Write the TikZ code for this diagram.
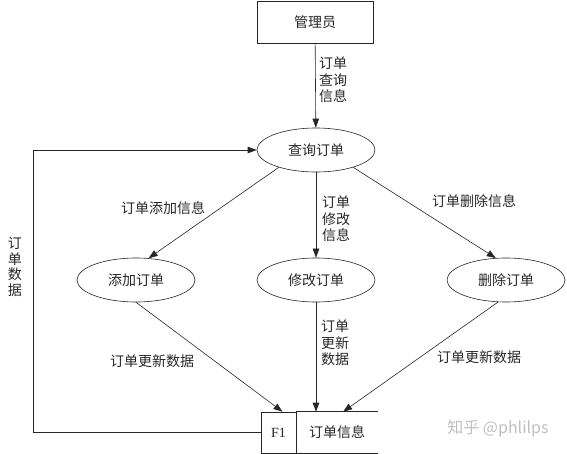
\documentclass[tikz,border=0pt]{standalone}
\usepackage{fontspec}
\setmainfont{Liberation Serif}
\newfontfamily\cjk{Noto Sans CJK SC}
\usetikzlibrary{arrows.meta,shapes.geometric}
\tikzset{
  entity/.style={draw, minimum width=116pt, minimum height=42pt,
    font=\cjk\fontsize{14}{16}\selectfont},
  process/.style={draw, ellipse, minimum width=118pt, minimum height=44pt,
    inner sep=0pt, font=\cjk\fontsize{14}{16}\selectfont},
  lbl/.style={inner sep=0pt, align=left, font=\cjk\fontsize{14}{16.5}\selectfont},
  flow/.style={-{Triangle[length=9pt,width=6.5pt]}},
}

\begin{document}
\begin{tikzpicture}[x=1pt, y=-1pt, line width=0.6pt, black!85]
  \useasboundingbox (0,0) rectangle (567,454);

  % Nodes
  \node[entity] (admin) at (315,22) {管理员};
  \node[process] (query) at (316,150) {查询订单};
  \node[process] (add) at (136,280) {添加订单};
  \node[process] (modify) at (316,280) {修改订单};
  \node[process] (delete) at (506,280) {删除订单};

  % Data store
  \node[draw, minimum width=35pt, minimum height=41pt, inner sep=0pt,
        font=\fontsize{14}{16}\selectfont] (f1) at (278.5,432.5) {F1};
  \node[anchor=west, minimum width=81pt, minimum height=41pt, inner sep=0pt,
        font=\cjk\fontsize{14}{16}\selectfont] (orders) at (f1.east) {订单信息};
  \draw (f1.north east) -- (orders.north east);
  \draw (f1.south east) -- (orders.south east);

  % Flows
  \draw[flow] (admin) -- (query);
  \draw[flow] (query.205) -- (add.60);
  \draw[flow] (query) -- (modify);
  \draw[flow] (query.-25) -- (delete.115);
  \draw[flow] (add.south) -- ([xshift=4pt]f1.north);
  \draw[flow] (modify) -- (modify |- orders.north);
  \draw[flow] (delete.250) -- ([xshift=6pt]orders.north);
  \coordinate (bend) at (33,150);
  \draw[flow] (f1.west) -| (bend) -- (query.west);

  % Labels
  \node[lbl] (lquery) at (333,80) {订单\\查询\\信息};
  \node[lbl, align=center, font=\cjk\fontsize{14}{15.5}\selectfont] (ldata) at (15,267) {订\\单\\数\\据};
  \node[lbl] (ladd) at (163,208) {订单添加信息};
  \node[lbl] (lmodify) at (336,219) {订单\\修改\\信息};
  \node[lbl] (ldelete) at (474,201) {订单删除信息};
  \node[lbl] (lupdadd) at (152,361) {订单更新数据};
  \node[lbl] (lupdmod) at (335,343) {订单\\更新\\数据};
  \node[lbl] (lupddel) at (479,357) {订单更新数据};

  % Watermark
  \node[inner sep=0pt, text=black!25, font=\cjk\fontsize{16}{18}\selectfont] (mark) at (498,429) {知乎 @phlilps};
\end{tikzpicture}
\end{document}
